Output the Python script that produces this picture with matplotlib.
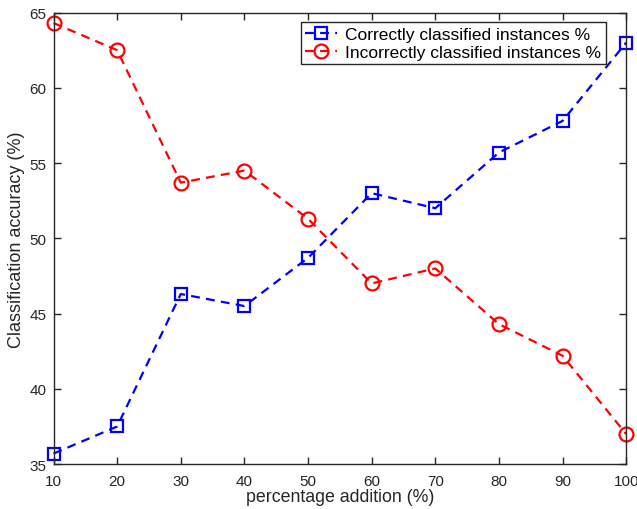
import numpy as np
import matplotlib.pyplot as plt

plt.rcParams['font.family'] = ['Liberation Sans', 'DejaVu Sans']

pct = [10, 20, 30, 40, 50, 60, 70, 80, 90, 100]
correct = [35.7, 37.5, 46.3, 45.5, 48.7, 53.0, 52.0, 55.7, 57.8, 63.0]
incorrect = [64.3, 62.5, 53.7, 54.5, 51.3, 47.0, 48.0, 44.3, 42.2, 37.0]

fig = plt.figure(figsize=(6.37, 5.10), dpi=100)
ax = fig.add_axes([0.084, 0.088, 0.899, 0.8855])

ax.plot(pct, correct, '--s', color='#0000ff', lw=1.6, ms=8.5, mfc='none', mew=1.6,
        dashes=(4, 2.8), label='Correctly classified instances %', clip_on=False)
ax.plot(pct, incorrect, '--o', color='#ff0000', lw=1.6, ms=10, mfc='none', mew=1.6,
        dashes=(4, 2.8), label='Incorrectly classified instances %', clip_on=False)

ax.set_xlim(10, 100)
ax.set_ylim(35, 65)
ax.set_xticks(np.arange(10, 101, 10))
ax.set_yticks(np.arange(35, 66, 5))
ax.tick_params(direction='in', top=True, right=True, length=5, width=1,
               labelsize=11, colors='#262626', pad=5)
ax.tick_params(axis='x', pad=7)
for s in ax.spines.values():
    s.set_color('#262626')
    s.set_linewidth(1)

ax.set_xlabel('percentage addition (%)', fontsize=12.8, color='#262626', labelpad=0)
ax.set_ylabel('Classification accuracy (%)', fontsize=13, color='#262626', labelpad=3)

leg = ax.legend(loc='upper right', bbox_to_anchor=(0.964, 0.978), fontsize=12.5,
                handlelength=1.8, handletextpad=0.5, borderpad=0.25, labelspacing=0.15,
                fancybox=False, framealpha=1, edgecolor='#262626', borderaxespad=0)
leg.get_frame().set_linewidth(1)

fig.savefig('out.png', dpi=100)
